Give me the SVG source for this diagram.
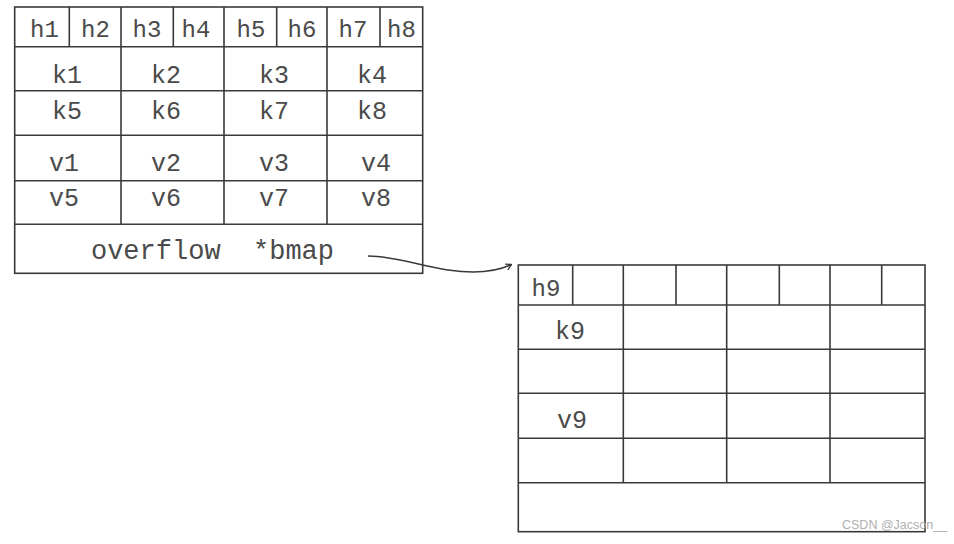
<svg xmlns="http://www.w3.org/2000/svg" width="954" height="544" viewBox="0 0 954 544">
<defs>
<style>
.ln{stroke:#3a3a3a;stroke-width:1.6;fill:none}
.bx{stroke:#3a3a3a;stroke-width:1.6;fill:#fff}
.t{font-family:"Liberation Mono","Courier New",monospace;fill:#4a4a4a;text-anchor:middle}
.h{font-size:24px}
.b{font-size:25px}
.o{font-size:27px}
.wm{font-family:"Liberation Sans",Arial,sans-serif;font-size:12.5px;fill:#b0b0b0}
</style>
<marker id="ah" viewBox="0 0 10 10" refX="9" refY="5" markerWidth="8" markerHeight="8" orient="auto" markerUnits="userSpaceOnUse">
<path d="M2,1 L9,5 L2,9" fill="none" stroke="#3a3a3a" stroke-width="1.6"/>
</marker>
</defs>
<rect width="954" height="544" fill="#fff"/>

<g id="bucket">
<rect class="bx" x="14.7" y="7" width="408" height="266.3"/>
<path class="ln" d="M14.7,46.7H422.7M14.7,90.7H422.7M14.7,135.3H422.7M14.7,180.7H422.7M14.7,224.3H422.7"/>
<path class="ln" d="M69.3,7V46.7M121,7V224.3M173.3,7V46.7M224,7V224.3M276.7,7V46.7M327,7V224.3M380,7V46.7"/>
<text class="t h" x="44.5" y="37">h1</text>
<text class="t h" x="95.5" y="37">h2</text>
<text class="t h" x="147" y="37">h3</text>
<text class="t h" x="196" y="37">h4</text>
<text class="t h" x="251" y="37">h5</text>
<text class="t h" x="302" y="37">h6</text>
<text class="t h" x="353" y="37">h7</text>
<text class="t h" x="401.5" y="37">h8</text>
<text class="t b" x="67" y="83">k1</text>
<text class="t b" x="166" y="83">k2</text>
<text class="t b" x="274" y="83">k3</text>
<text class="t b" x="372" y="83">k4</text>
<text class="t b" x="67" y="119">k5</text>
<text class="t b" x="166" y="119">k6</text>
<text class="t b" x="274" y="119">k7</text>
<text class="t b" x="372" y="119">k8</text>
<text class="t b" x="64" y="171">v1</text>
<text class="t b" x="166" y="171">v2</text>
<text class="t b" x="274" y="171">v3</text>
<text class="t b" x="376" y="171">v4</text>
<text class="t b" x="64" y="206">v5</text>
<text class="t b" x="166" y="206">v6</text>
<text class="t b" x="274" y="206">v7</text>
<text class="t b" x="376" y="206">v8</text>
<text class="t o" x="212.5" y="259" xml:space="preserve" style="white-space:pre">overflow  *bmap</text>
</g>

<g id="overflow-bucket">
<rect class="bx" x="518.3" y="265" width="406.7" height="266.7"/>
<path class="ln" d="M518.3,305H925M518.3,349.3H925M518.3,393.3H925M518.3,438.3H925M518.3,482.7H925"/>
<path class="ln" d="M572.7,265V305M676,265V305M779.3,265V305M881.7,265V305M623.3,265V482.7M726.7,265V482.7M830,265V482.7"/>
<text class="t h" x="546" y="296">h9</text>
<text class="t b" x="570" y="339">k9</text>
<text class="t b" x="572" y="428">v9</text>
</g>

<g id="connectors">
<path class="ln" d="M368,256 C395,256 420,266 448,270 C475,274 496,272 511.5,264.5" marker-end="url(#ah)"/>
</g>

<text class="wm" x="842" y="529">CSDN @Jacson__</text>
</svg>
